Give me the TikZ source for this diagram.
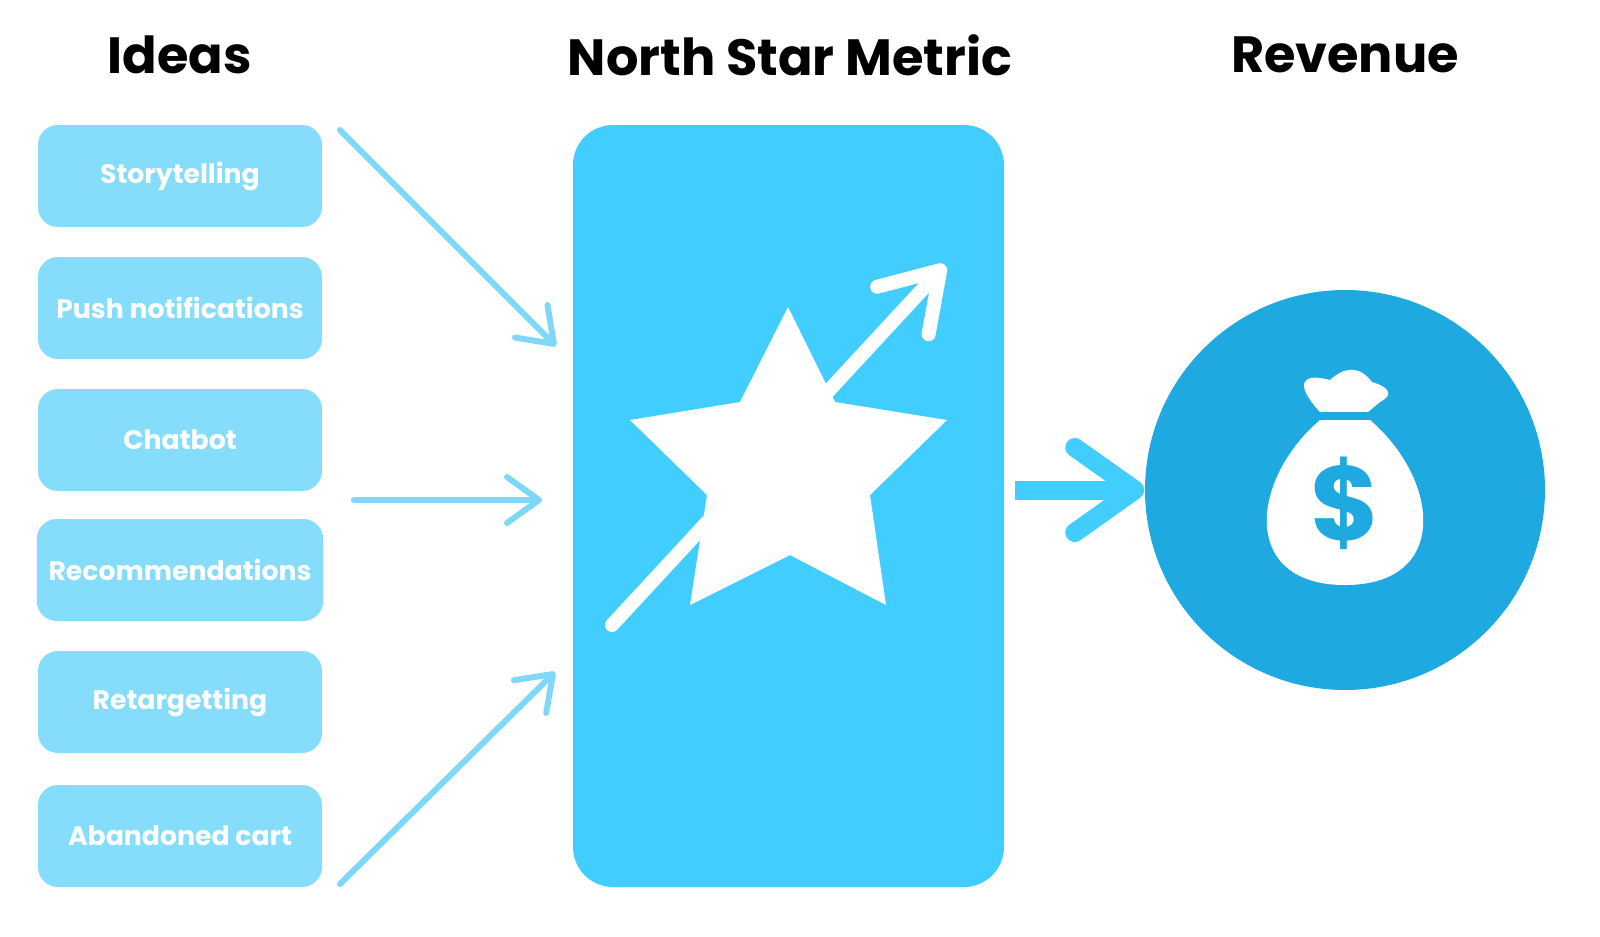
\documentclass[tikz,border=0pt]{standalone}
\usepackage{fontspec}
\setmainfont{Poppins}
\usetikzlibrary{arrows.meta}
\definecolor{ideablue}{HTML}{85DCFB}
\definecolor{arrowblue}{HTML}{7FD8F8}
\definecolor{metricblue}{HTML}{41CDFD}
\definecolor{revblue}{HTML}{1EAAE0}
\tikzset{
  idea/.style={draw=none, fill=ideablue, rounded corners=2mm, minimum width=28.4mm,
    minimum height=10.2mm, text=white, font=\fontsize{7.6}{9}\selectfont\bfseries},
  title/.style={font=\fontsize{14.5}{17}\selectfont\bfseries, text=black},
  feed/.style={arrowblue, line width=0.6mm, line cap=round,
    -{Straight Barb[length=3.2mm, width=4.6mm, line width=0.6mm, round]}}
}
\begin{document}
\begin{tikzpicture}[x=0.1mm, y=-0.1mm]
  \useasboundingbox (0,0) rectangle (1600,936);
  \fill[white] (0,0) rectangle (1600,936);

  % titles
  \node[title] (tideas) at (180,55) {Ideas};
  \node[title] (tnsm) at (790,55) {North Star Metric};
  \node[title] (trev) at (1345,55) {Revenue};

  % ideas
  \node[idea] (story) at (180,176) {Storytelling};
  \node[idea] (push) at (180,308) {Push notifications};
  \node[idea] (chat) at (180,440) {Chatbot};
  \node[idea] (recom) at (180,570) {Recommendations};
  \node[idea] (retarg) at (180,702) {Retargetting};
  \node[idea] (aband) at (180,836) {Abandoned cart};

  % metric box
  \node[fill=metricblue, rounded corners=4mm, minimum width=43.1mm, minimum height=76.2mm] (nsm) at (788.5,506) {};

  % feeding arrows
  \coordinate (a1) at (340,130);
  \coordinate (b1) at (556,346);
  \coordinate (a2) at (354,500);
  \coordinate (b2) at (542,500);
  \coordinate (a3) at (340,884);
  \coordinate (b3) at (555,672);
  \draw[feed] (a1) -- (b1);
  \draw[feed] (a2) -- (b2);
  \draw[feed] (a3) -- (b3);

  % star with rising arrow
  \draw[white, line width=1.4mm, line cap=round,
    -{Straight Barb[length=5.5mm, width=7mm, line width=1.4mm, round]}] (612,625) -- (945,265);
  \fill[white] (788,307) -- (835,402) -- (947,420) -- (870,495) -- (886,605) -- (790,555)
    -- (690,605) -- (707,495) -- (630,420) -- (740,402) -- cycle;

  % revenue
  \node[circle, fill=revblue, minimum size=40mm] (rev) at (1345,490) {};
  \draw[metricblue, line width=1.9mm,
    -{Straight Barb[length=6mm, width=8.5mm, line width=1.9mm, round]}] (1015,490) -- (rev.west);

  % money bag
  \fill[white] (1320,420) .. controls (1250,480) and (1240,585) .. (1345,585)
    .. controls (1450,585) and (1440,480) .. (1370,420) -- cycle;
  \fill[white] (1320,412) .. controls (1295,385) and (1300,372) .. (1330,380)
    .. controls (1345,366) and (1360,366) .. (1372,382) .. controls (1392,388) and (1392,396) .. (1380,402)
    -- (1368,412) -- cycle;
  \draw[revblue, line width=0.4mm] (1322,414) -- (1368,414);
  \node[text=revblue, font=\fontsize{30}{32}\selectfont\bfseries] (dollar) at (1345,503) {\$};
\end{tikzpicture}
\end{document}
